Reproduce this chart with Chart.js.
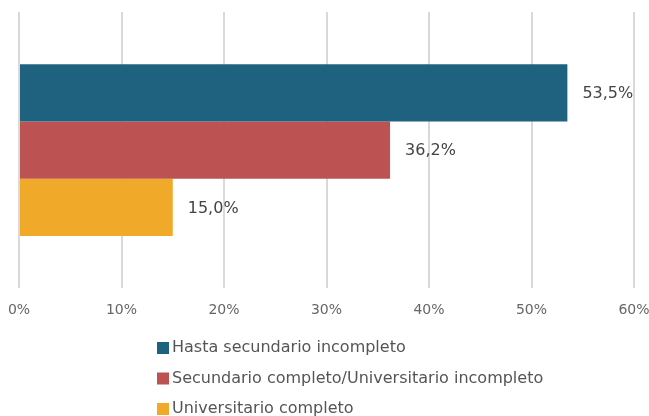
<!DOCTYPE html>
<html><head><meta charset="utf-8">
<script src="https://cdn.jsdelivr.net/npm/chart.js@4"></script>
<style>html,body{margin:0;padding:0;background:#fff}#wrap{width:649px;height:416px;position:relative}</style>
</head><body><div id="wrap"><canvas id="c"></canvas></div>
<script>
const categories = [''];
const seriesLabels = ['Hasta secundario incompleto', 'Secundario completo/Universitario incompleto', 'Universitario completo'];
const hastaSecundario = [53.5];
const secundarioCompleto = [36.2];
const universitarioCompleto = [15.0];
const seriesValues = [hastaSecundario, secundarioCompleto, universitarioCompleto];
const seriesColors = ['#1f6280', '#bd5252', '#f1a929'];
const xTickValues = [0, 10, 20, 30, 40, 50, 60];

const FONT = "'DejaVu Sans', sans-serif";
const fmt = v => v.toFixed(1).replace('.', ',') + '%';

const valueLabels = {
  id: 'valueLabels',
  afterDatasetsDraw(chart) {
    const ctx = chart.ctx;
    ctx.save();
    ctx.font = '16px ' + FONT;
    ctx.fillStyle = '#444';
    ctx.textBaseline = 'middle';
    ctx.textAlign = 'left';
    chart.data.datasets.forEach((ds, i) => {
      const meta = chart.getDatasetMeta(i);
      meta.data.forEach((bar, j) => {
        ctx.fillText(fmt(ds.data[j]), bar.x + 15, bar.y + 1);
      });
    });
    ctx.restore();
  }
};

const listLegend = {
  id: 'listLegend',
  afterDraw(chart) {
    const ctx = chart.ctx;
    ctx.save();
    ctx.font = '16px ' + FONT;
    ctx.textBaseline = 'middle';
    ctx.textAlign = 'left';
    chart.data.datasets.forEach((ds, i) => {
      const y = 348 + i * 30.5;
      ctx.fillStyle = ds.backgroundColor;
      ctx.fillRect(157, y - 6, 12, 12);
      ctx.fillStyle = '#555';
      ctx.fillText(ds.label, 172, y);
    });
    ctx.restore();
  }
};

new Chart(document.getElementById('c'), {
  type: 'bar',
  data: {
    labels: categories,
    datasets: seriesLabels.map((l, i) => ({
      label: l,
      data: seriesValues[i],
      backgroundColor: seriesColors[i],
      borderWidth: 0,
      categoryPercentage: 0.622,
      barPercentage: 1
    }))
  },
  options: {
    indexAxis: 'y',
    responsive: true,
    maintainAspectRatio: false,
    animation: false,
    layout: { padding: { left: 19, right: 15, top: 12, bottom: 83 } },
    plugins: { legend: { display: false }, tooltip: { enabled: false } },
    scales: {
      x: {
        min: 0, max: 60,
        afterBuildTicks: s => { s.ticks = xTickValues.map(v => ({ value: v })); },
        afterFit: s => { s.paddingLeft = 0; s.paddingRight = 0; },
        border: { display: false },
        grid: { color: '#d9d9d9', lineWidth: 2, drawTicks: false },
        ticks: { padding: 14, color: '#666', font: { family: FONT, size: 14 }, callback: v => v + '%' }
      },
      y: { display: false }
    }
  },
  plugins: [valueLabels, listLegend]
});
</script></body></html>
